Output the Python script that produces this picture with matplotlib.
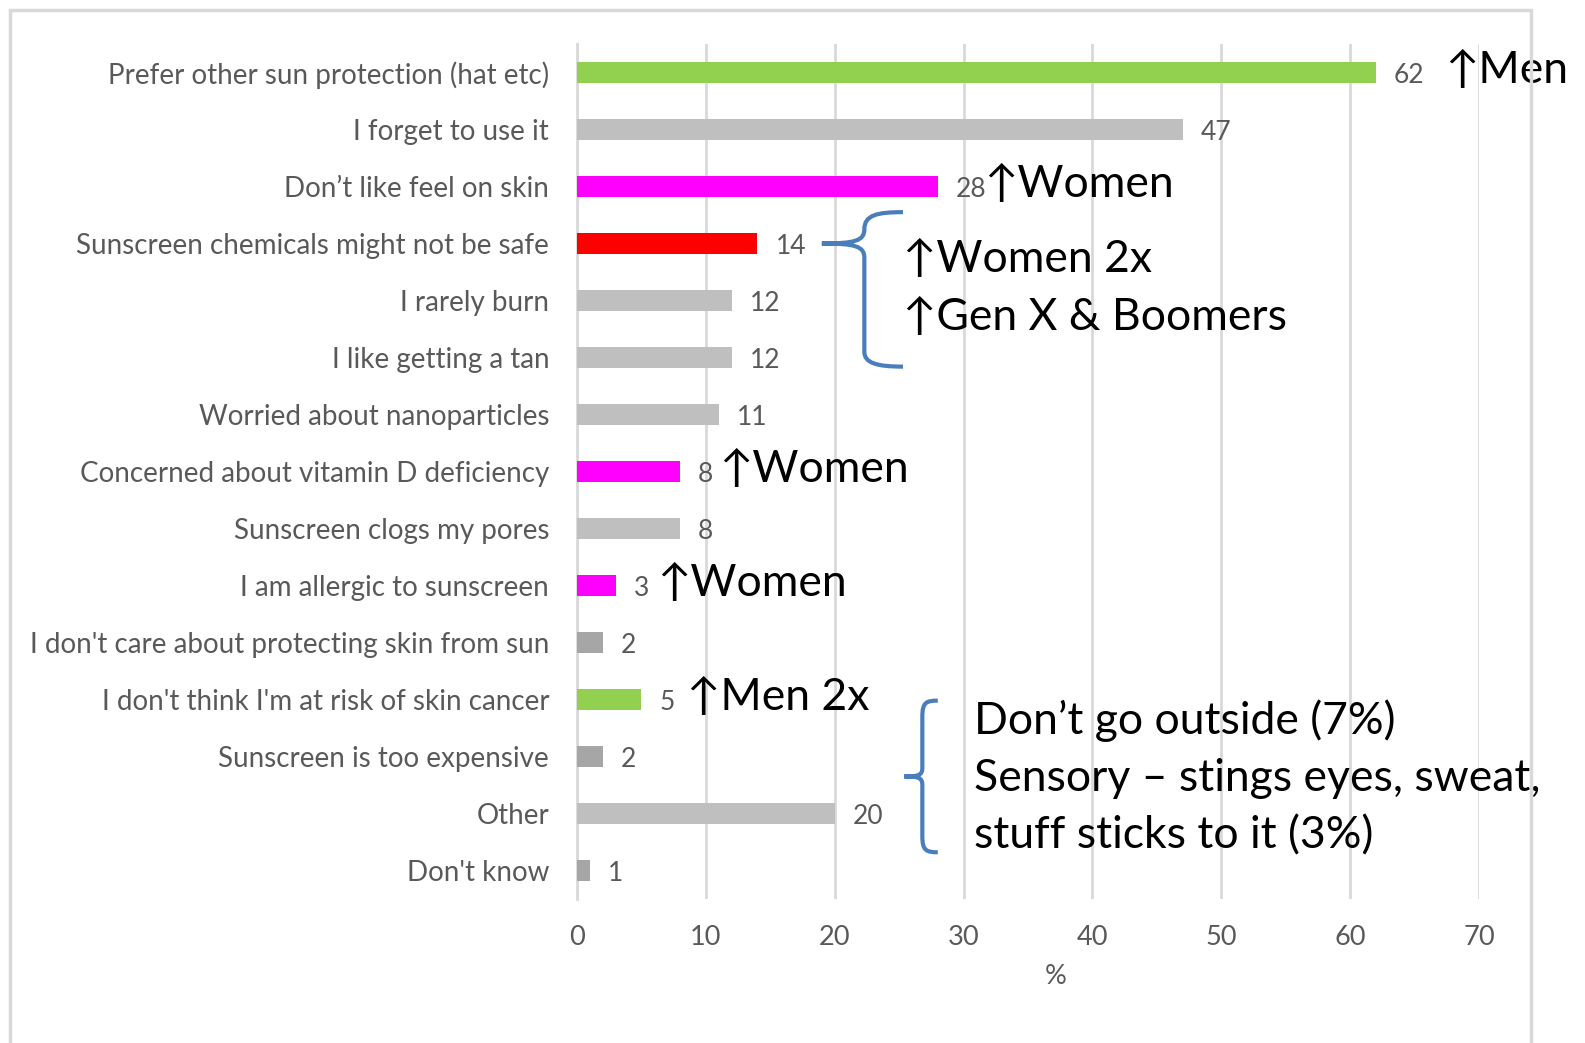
#!/usr/bin/env python3

import matplotlib.pyplot as plt
from matplotlib.path import Path
from matplotlib.patches import PathPatch, Rectangle

reasons = [
    "Prefer other sun protection (hat etc)",
    "I forget to use it",
    "Don\u2019t like feel on skin",
    "Sunscreen chemicals might not be safe",
    "I rarely burn",
    "I like getting a tan",
    "Worried about nanoparticles",
    "Concerned about vitamin D deficiency",
    "Sunscreen clogs my pores",
    "I am allergic to sunscreen",
    "I don't care about protecting skin from sun",
    "I don't think I'm at risk of skin cancer",
    "Sunscreen is too expensive",
    "Other",
    "Don't know",
]
percent = [62, 47, 28, 14, 12, 12, 11, 8, 8, 3, 2, 5, 2, 20, 1]
bar_colors = ["#92D050", "#BFBFBF", "#FF00FF", "#FF0000", "#BFBFBF",
              "#BFBFBF", "#BFBFBF", "#FF00FF", "#BFBFBF", "#FF00FF",
              "#A6A6A6", "#92D050", "#A6A6A6", "#BFBFBF", "#A6A6A6"]

# (row, x, text)
notes = [
    (0, 67.4, "\u2191Men"),
    (2, 31.6, "\u2191Women"),
    (7, 11.0, "\u2191Women"),
    (9, 6.2, "\u2191Women"),
    (11, 8.5, "\u2191Men 2x"),
]
brace_text_1 = ["\u2191Women 2x", "\u2191Gen X & Boomers"]
brace_text_2 = ["Don\u2019t go outside (7%)",
                "Sensory \u2013 stings eyes, sweat,",
                "stuff sticks to it (3%)"]

fam = ["Lato", "DejaVu Sans"]
grey = "#595959"
blue = "#4A7EBB"

W, H = 1585, 1043
fig = plt.figure(figsize=(W / 100, H / 100), dpi=100)
fig.patches.append(Rectangle((10 / W, -0.1), 1521 / W, 1.1 - 10 / H,
                             transform=fig.transFigure, fill=False,
                             edgecolor="#D9D9D9", linewidth=2.5))
ax = fig.add_axes([577 / W, (H - 899) / H, (1479 - 577) / W, (899 - 44) / H])

rows = list(range(len(reasons)))
ax.barh(rows, percent, height=0.37, color=bar_colors, zorder=3)
ax.set_ylim(len(reasons) - 0.5, -0.5)
ax.set_xlim(0, 70)
ax.set_xticks(range(0, 71, 10))
ax.set_yticks(rows)
ax.set_yticklabels(reasons, family=fam, fontsize=20, color=grey)
ax.tick_params(axis="y", length=0, pad=20)
ax.tick_params(axis="x", length=0, pad=19, labelsize=19.5, labelcolor=grey)
for lab in ax.get_xticklabels():
    lab.set_family(fam)
ax.set_xlabel("%", family=fam, fontsize=19.5, color=grey, va="center")
ax.xaxis.set_label_coords(0.531, -0.091)
ax.grid(axis="x", color="#D9D9D9", linewidth=2, zorder=0)
for s in ["top", "right", "bottom"]:
    ax.spines[s].set_visible(False)
ax.spines["left"].set_color("#D9D9D9")
ax.spines["left"].set_linewidth(2)

for r, v in zip(rows, percent):
    ax.text(v + 1.4, r + 0.05, str(v), va="center", ha="left",
            family=fam, fontsize=19, color=grey)

for r, x, t in notes:
    ax.text(x, r - 0.04, t, va="center", ha="left", family=fam,
            fontsize=32, color="black")

ax.text(25.3, 3.28, brace_text_1[0], va="center", ha="left", family=fam,
        fontsize=32, color="black")
ax.text(25.3, 4.3, brace_text_1[1], va="center", ha="left", family=fam,
        fontsize=32, color="black")
for i, t in enumerate(brace_text_2):
    ax.text(30.8, 11.38 + i * 1.01, t, va="center", ha="left", family=fam,
            fontsize=32, color="black")

# curly braces
C = Path.CURVE4
brace1 = Path(
    [(25.3, 2.45), (23.3, 2.45), (22.3, 2.5), (22.3, 2.75),
     (22.3, 2.95), (21.6, 3.0), (19.0, 3.0),
     (21.6, 3.0), (22.3, 3.05), (22.3, 3.25),
     (22.3, 4.9),
     (22.3, 5.1), (23.3, 5.16), (25.3, 5.16)],
    [Path.MOVETO, C, C, C, C, C, C, C, C, C, Path.LINETO, C, C, C])
brace2 = Path(
    [(28.0, 11.02), (27.1, 11.02), (26.8, 11.05), (26.8, 11.3),
     (26.8, 12.2),
     (26.8, 12.33), (26.5, 12.35), (25.4, 12.35),
     (26.5, 12.35), (26.8, 12.37), (26.8, 12.5),
     (26.8, 13.4),
     (26.8, 13.65), (27.1, 13.68), (28.0, 13.68)],
    [Path.MOVETO, C, C, C, Path.LINETO, C, C, C, C, C, C, Path.LINETO, C, C, C])
for p in (brace1, brace2):
    ax.add_patch(PathPatch(p, fill=False, edgecolor=blue, linewidth=3,
                           capstyle="butt", clip_on=False, zorder=4))

fig.savefig("out.png", dpi=100)
